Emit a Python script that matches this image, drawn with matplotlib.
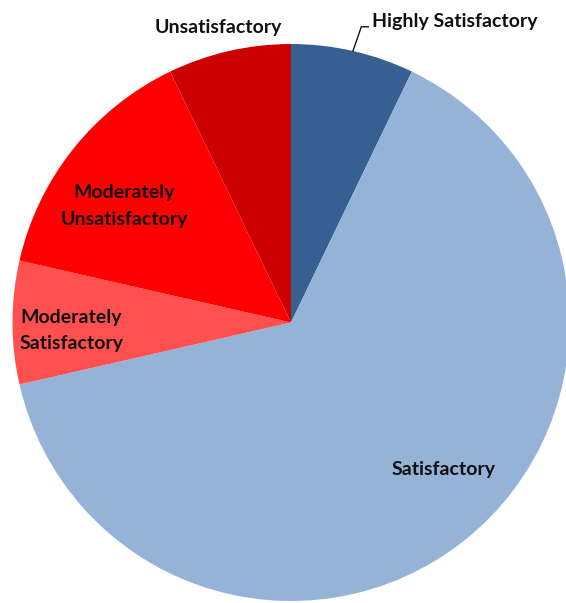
import numpy as np
from matplotlib import pyplot as plt

# project ratings (counts)
categories = ["Highly Satisfactory", "Satisfactory", "Moderately\nSatisfactory",
              "Moderately\nUnsatisfactory", "Unsatisfactory"]
counts = [1, 9, 1, 2, 1]
colors = ["#376092", "#95B3D7", "#FF5050", "#FF0000", "#CC0000"]

# label radius (fraction of pie radius) and angle shift from wedge middle
label_r = [None, 0.76, 0.79, 0.73, 1.09]
label_shift = [0, 7.4, 2.0, 3.6, 1.0]

W, H = 566, 603
fig = plt.figure(figsize=(W / 100, H / 100), dpi=100)
cx, cy, R = 291, 603 - 322.5, 278.5
ax = fig.add_axes([(cx - R) / W, (cy - R) / H, 2 * R / W, 2 * R / H])

wedges, _ = ax.pie(counts, colors=colors, startangle=90, counterclock=False,
                   radius=1, wedgeprops=dict(linewidth=0))
ax.set_xlim(-1, 1)
ax.set_ylim(-1, 1)
ax.set_aspect("equal")
ax.axis("off")

font = dict(family=["Lato", "DejaVu Sans"], fontweight="bold", fontsize=14, color="#111111")

for w, lab, r, sh in zip(wedges, categories, label_r, label_shift):
    mid = np.deg2rad((w.theta1 + w.theta2) / 2 + sh)
    if r is None:
        # outside label with leader line
        x0, y0 = np.cos(mid), np.sin(mid)
        xs = [x0, x0 + 0.03, x0 + 0.055]
        ys = [y0, y0 + 0.087, y0 + 0.087]
        ax.plot(xs, ys, color="#111111", lw=1.0, clip_on=False)
        ax.text(xs[-1] + 0.012, ys[-1] + 0.02, lab, ha="left", va="center",
                clip_on=False, **font)
    else:
        ax.text(r * np.cos(mid), r * np.sin(mid), lab, ha="center", va="center",
                linespacing=1.65, clip_on=False, **font)

fig.savefig("out.png", dpi=100)
